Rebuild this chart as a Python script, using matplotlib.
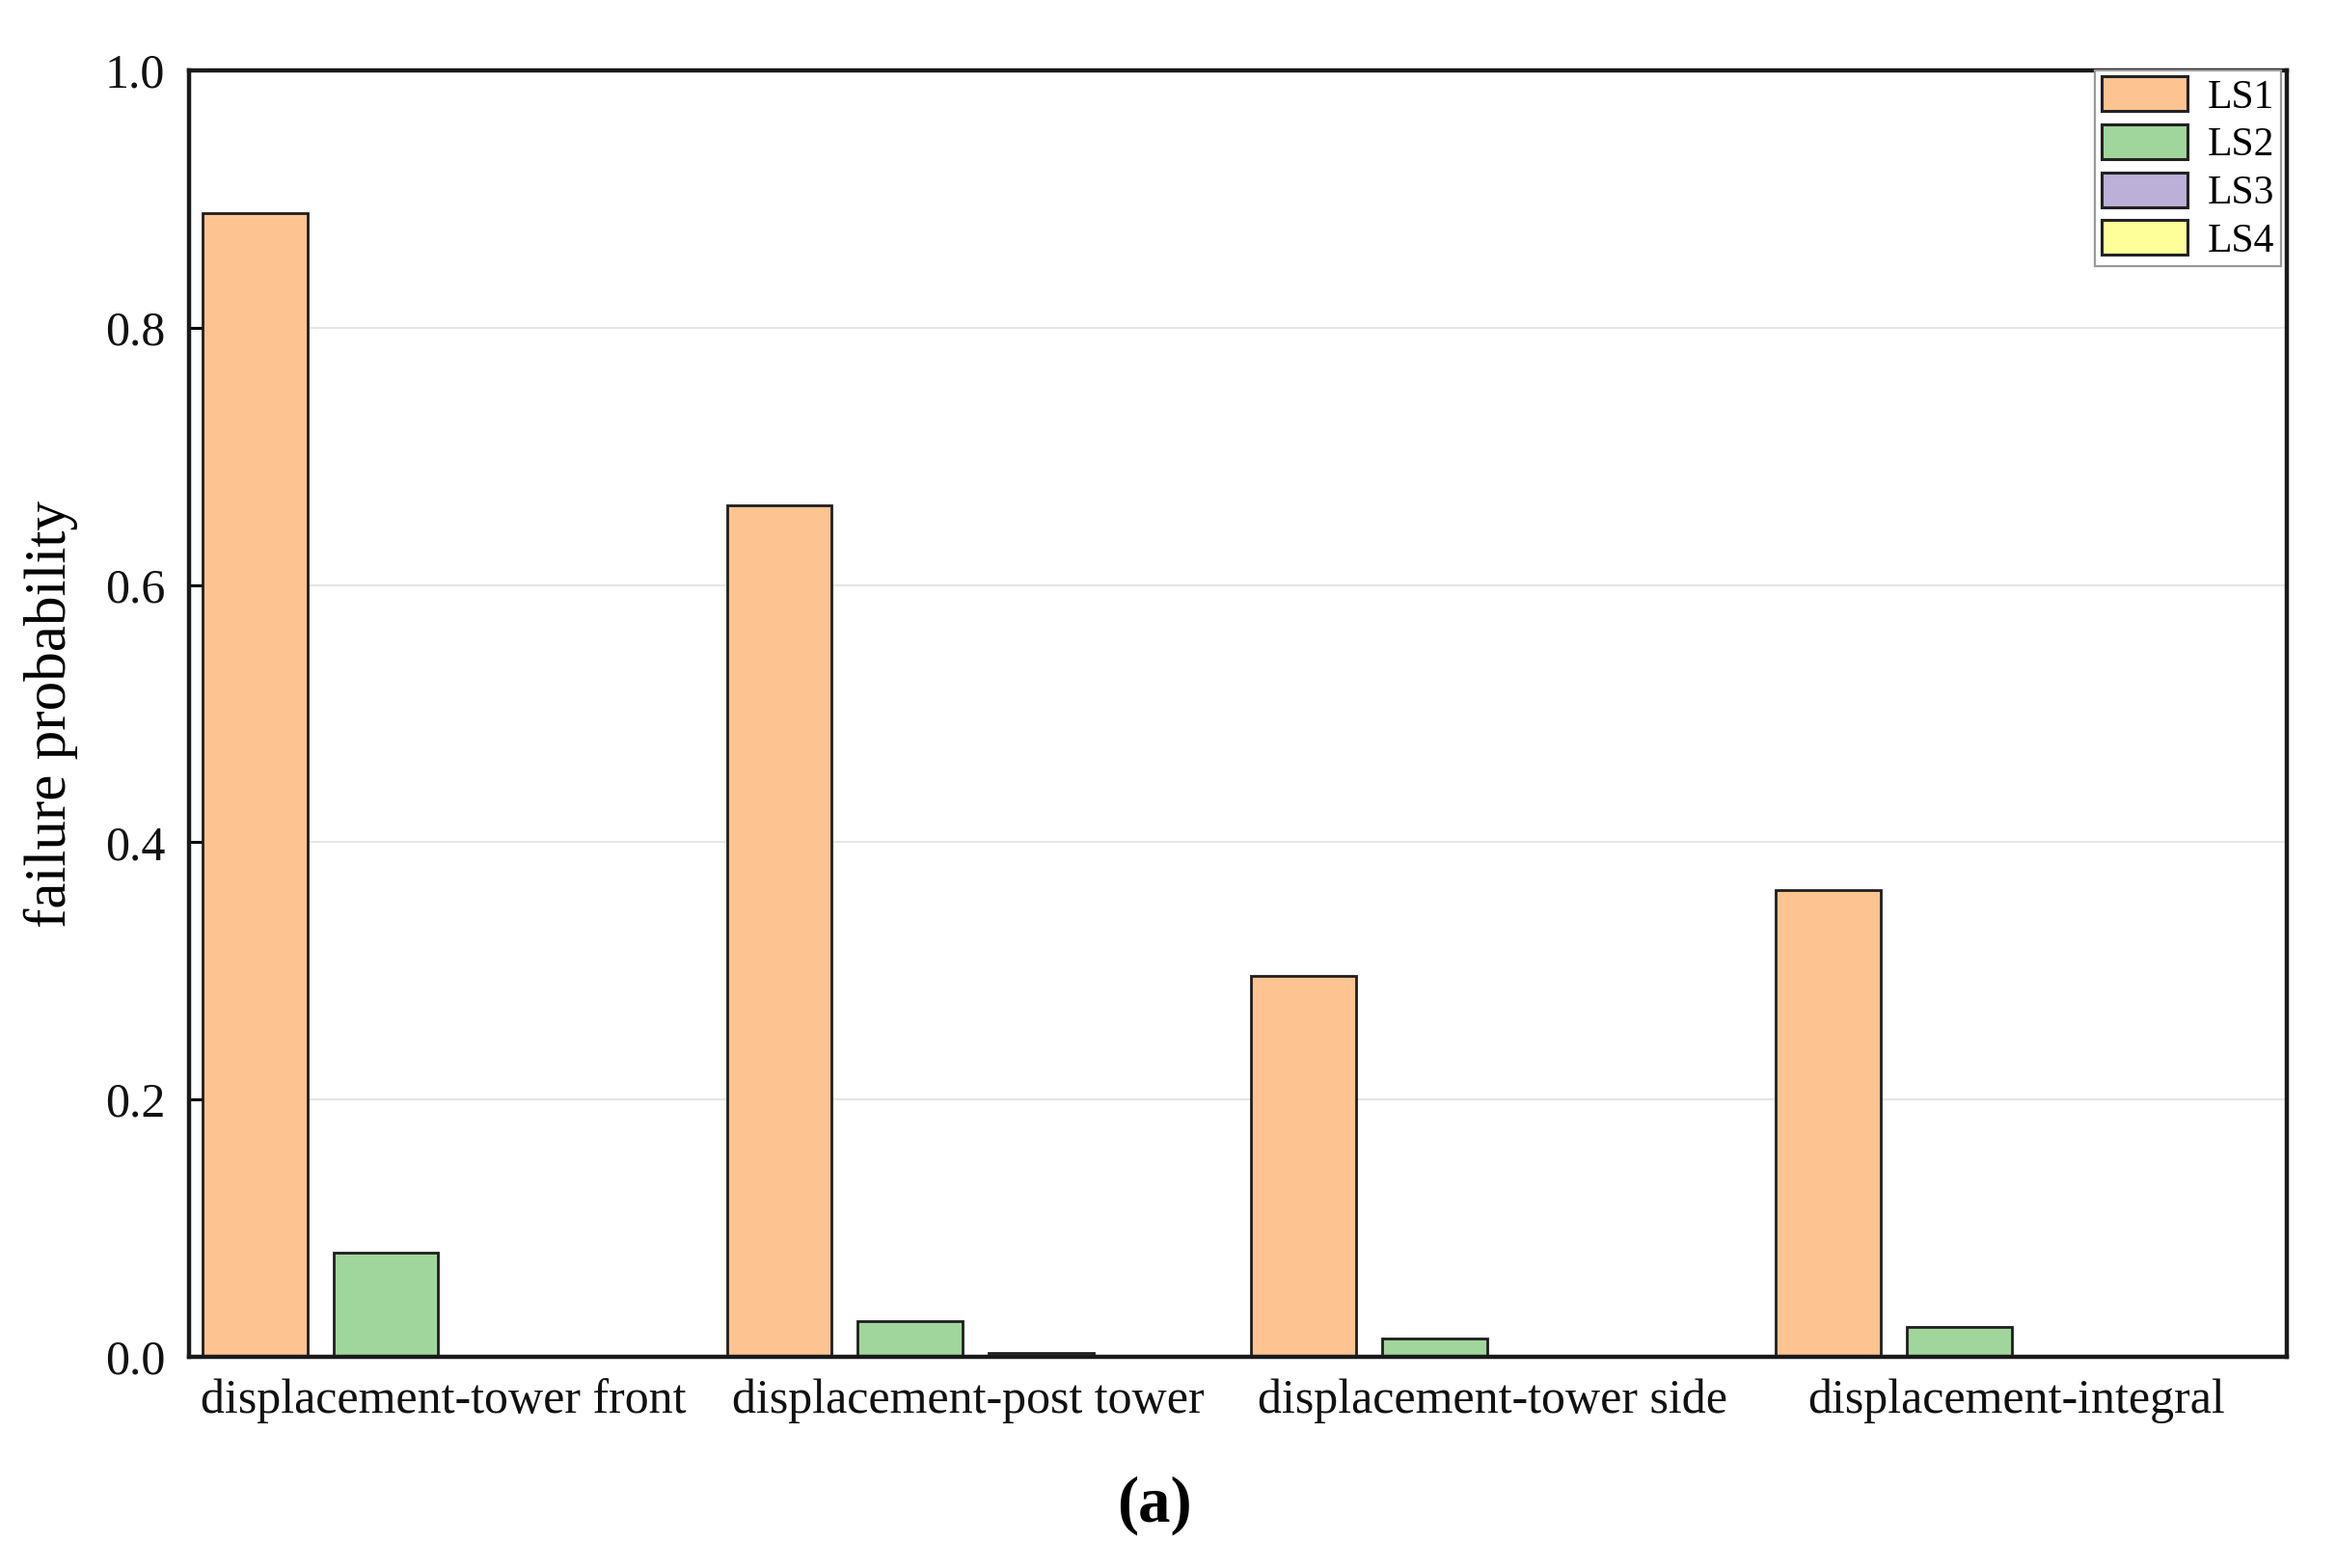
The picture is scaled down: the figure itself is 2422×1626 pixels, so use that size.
import numpy as np
import matplotlib
matplotlib.use("Agg")
import matplotlib.pyplot as plt

# data
categories = ["displacement-tower front", "displacement-post tower",
              "displacement-tower side", "displacement-integral"]
series_names = ["LS1", "LS2", "LS3", "LS4"]
ls1 = [0.889, 0.662, 0.296, 0.363]
ls2 = [0.081, 0.028, 0.014, 0.023]
ls3 = [0.0, 0.003, 0.0008, 0.001]
ls4 = [0.0, 0.0, 0.0, 0.0]
yticks = [0.0, 0.2, 0.4, 0.6, 0.8, 1.0]

colors = ["#FDC391", "#A0D69C", "#BCB0D8", "#FFFF99"]

plt.rcParams['font.family'] = ['Liberation Serif', 'DejaVu Serif']

fig = plt.figure(figsize=(24.22, 16.26), dpi=100)
ax = fig.add_axes([0.081, 0.1347, 0.898, 0.8203])

x = np.arange(len(categories))
width = 0.2
step = 0.25
for j, (vals, name) in enumerate(zip([ls1, ls2, ls3, ls4], series_names)):
    ax.bar(x + (j - 1.5) * step, vals, width, color=colors[j], edgecolor="#1e1e1e",
           linewidth=2.0, label=name, zorder=2)

ax.set_xlim(-0.5, 3.5)
ax.set_ylim(0, 1.0)
ax.set_yticks(yticks)
ax.set_yticklabels([f"{v:.1f}" for v in yticks])
ax.set_xticks(x - 0.015)
ax.set_xticklabels(categories)

ax.tick_params(axis='y', direction='in', length=15, width=2.2, labelsize=36, pad=18)
ax.tick_params(axis='x', length=0, labelsize=36, pad=16)
for lab in ax.get_xticklabels() + ax.get_yticklabels():
    lab.set_color("#111111")

ax.set_ylabel("failure probability", fontsize=44, labelpad=20)

ax.yaxis.grid(True, color="#e3e3e3", linewidth=1.3, zorder=0)
ax.set_axisbelow(True)
for sp in ax.spines.values():
    sp.set_linewidth(3.2)
    sp.set_color("#1a1a1a")
    sp.set_zorder(3)

leg = ax.legend(loc='upper right', bbox_to_anchor=(0.997, 1.0), borderaxespad=0,
                fontsize=30, fancybox=False, framealpha=1, edgecolor="#999999",
                handlelength=2.15, handleheight=0.95, handletextpad=0.5,
                labelspacing=0.2, borderpad=0.15)
leg.get_frame().set_linewidth(1.6)
for patch in leg.get_patches():
    patch.set_edgecolor("#222222")
    patch.set_linewidth(2.2)

fig.text(0.494, 0.040, "(a)", ha='center', va='center', fontsize=48, fontweight='bold')

fig.savefig("out.png", dpi=100)
